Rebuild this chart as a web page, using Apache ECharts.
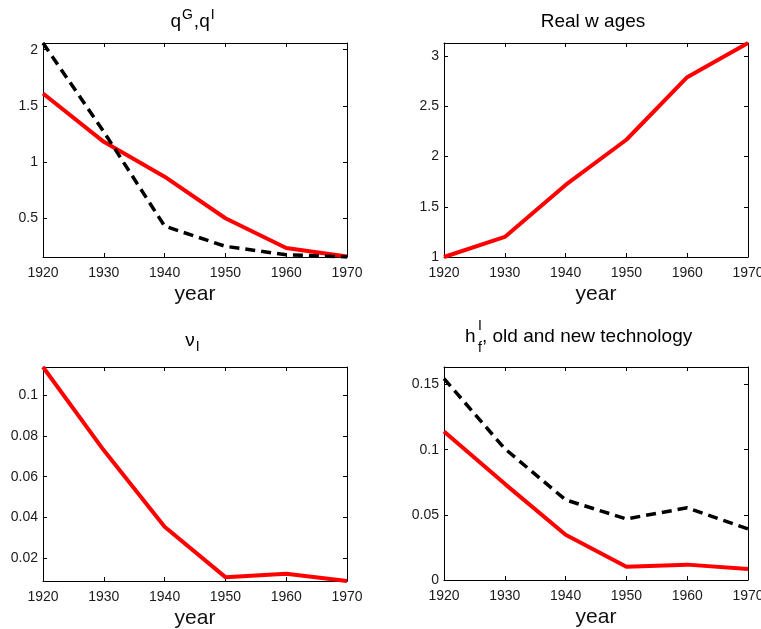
<!DOCTYPE html>
<html><head><meta charset="utf-8">
<script src="https://cdn.jsdelivr.net/npm/echarts@6/dist/echarts.min.js"></script>
<style>html,body{margin:0;padding:0;background:#fff}#c{width:761px;height:629px}</style>
</head><body><div id="c"></div>
<script>
// ---- data ----
const years = [1920, 1930, 1940, 1950, 1960, 1970];
const qRed = [1.61, 1.18, 0.87, 0.50, 0.235, 0.16];
const qDashed = [2.06, 1.27, 0.43, 0.25, 0.175, 0.155];
const realWages = [1.0, 1.2, 1.717, 2.167, 2.79, 3.13];
const nuI = [0.114, 0.073, 0.0354, 0.0106, 0.0123, 0.0087];
const hNew = [0.114, 0.0738, 0.0348, 0.0102, 0.0118, 0.0085];
const hOld = [0.1546, 0.1008, 0.0615, 0.0469, 0.0554, 0.0392];
const xTicks = [1920, 1930, 1940, 1950, 1960, 1970];
const yTicks1 = [0.5, 1, 1.5, 2];
const yTicks2 = [1, 1.5, 2, 2.5, 3];
const yTicks3 = [0.02, 0.04, 0.06, 0.08, 0.1];
const yTicks4 = [0, 0.05, 0.1, 0.15];

const FONT = "'Liberation Sans', Arial, sans-serif";
const grids = [
  {left: 43, top: 43, width: 304, height: 214, outerBoundsMode: 'none', containLabel: false},
  {left: 444, top: 43, width: 304, height: 214, outerBoundsMode: 'none', containLabel: false},
  {left: 43, top: 367, width: 304, height: 214, outerBoundsMode: 'none', containLabel: false},
  {left: 444, top: 367, width: 304, height: 213, outerBoundsMode: 'none', containLabel: false}
];
const yRanges = [[0.155, 2.06], [1, 3.13], [0.0087, 0.114], [0, 0.1635]];
const yTickSets = [yTicks1, yTicks2, yTicks3, yTicks4];

const line = v => ({color: '#000', width: v || 1});
const fmt = v => String(+v.toFixed(4));
const xAxes = [], yAxes = [];
grids.forEach((g, i) => {
  xAxes.push({
    gridIndex: i, type: 'value', min: 1920, max: 1970, position: 'bottom',
    axisLine: {show: true, onZero: false, lineStyle: line()},
    axisTick: {show: true, inside: true, length: 4, customValues: xTicks, lineStyle: line()},
    axisLabel: {customValues: xTicks, formatter: fmt, fontSize: 14, fontFamily: FONT, color: '#1a1a1a', margin: 9},
    splitLine: {show: false},
    name: 'year', nameLocation: 'middle', nameGap: 27,
    nameTextStyle: {fontSize: 21, fontFamily: FONT, color: '#111'}
  });
  xAxes.push({
    gridIndex: i, type: 'value', min: 1920, max: 1970, position: 'top',
    axisLine: {show: true, onZero: false, lineStyle: line()},
    axisTick: {show: true, inside: true, length: 4, customValues: xTicks, lineStyle: line()},
    axisLabel: {show: false}, splitLine: {show: false}
  });
  yAxes.push({
    gridIndex: i, type: 'value', min: yRanges[i][0], max: yRanges[i][1], position: 'left',
    axisLine: {show: true, onZero: false, lineStyle: line()},
    axisTick: {show: true, inside: true, length: 4, customValues: yTickSets[i], lineStyle: line()},
    axisLabel: {customValues: yTickSets[i], formatter: fmt, fontSize: 14, fontFamily: FONT, color: '#1a1a1a', margin: 5},
    splitLine: {show: false}
  });
  yAxes.push({
    gridIndex: i, type: 'value', min: yRanges[i][0], max: yRanges[i][1], position: 'right',
    axisLine: {show: true, onZero: false, lineStyle: line()},
    axisTick: {show: true, inside: true, length: 4, customValues: yTickSets[i], lineStyle: line()},
    axisLabel: {show: false}, splitLine: {show: false}
  });
});

const pair = arr => years.map((y, k) => [y, arr[k]]);
const redLine = (i, arr) => ({
  type: 'line', xAxisIndex: 2 * i, yAxisIndex: 2 * i, data: pair(arr),
  showSymbol: false, symbol: 'none', lineStyle: {color: '#ff0000', width: 4}, z: 3, animation: false
});
const dashLine = (i, arr) => ({
  type: 'line', xAxisIndex: 2 * i, yAxisIndex: 2 * i, data: pair(arr),
  showSymbol: false, symbol: 'none', lineStyle: {color: '#000', width: 3.5, type: [10, 6]}, z: 4, animation: false
});

const tstyle = (x, y, text, rich, align) => ({
  type: 'text', x: x, y: y, z: 10,
  style: {text: text, rich: rich, align: align || 'center', verticalAlign: 'middle',
          fill: '#000', fontFamily: FONT, fontSize: 19}
});
const richSup = {
  m: {fontSize: 19, fontFamily: FONT, fill: '#000'},
  s: {fontSize: 14, fontFamily: FONT, fill: '#000', padding: [0, 1, 13, 1]},
  b: {fontSize: 14, fontFamily: FONT, fill: '#000', padding: [13, 1, 0, 1]}
};

const option = {
  backgroundColor: '#fff',
  animation: false,
  grid: grids,
  xAxis: xAxes,
  yAxis: yAxes,
  series: [
    redLine(0, qRed), dashLine(0, qDashed),
    redLine(1, realWages),
    redLine(2, nuI),
    redLine(3, hNew), dashLine(3, hOld)
  ],
  graphic: [
    tstyle(193, 22, '{m|q}{s|G}{m|,q}{s|I}', richSup),
    tstyle(593, 22, 'Real w ages'),
    tstyle(193, 341, '{m|ν}{b|I}', richSup),
    tstyle(465, 337, 'h', null, 'left'),
    {type: 'text', x: 478, y: 326, z: 10, style: {text: 'I', fontFamily: FONT, fontSize: 14, fill: '#000', align: 'left', verticalAlign: 'middle'}},
    {type: 'text', x: 478, y: 348, z: 10, style: {text: 'f', fontFamily: FONT, fontSize: 14, fill: '#000', align: 'left', verticalAlign: 'middle'}},
    tstyle(482, 337, ', old and new technology', null, 'left')
  ]
};
const chart = echarts.init(document.getElementById('c'), null, {renderer: 'canvas'});
chart.setOption(option);
</script></body></html>
